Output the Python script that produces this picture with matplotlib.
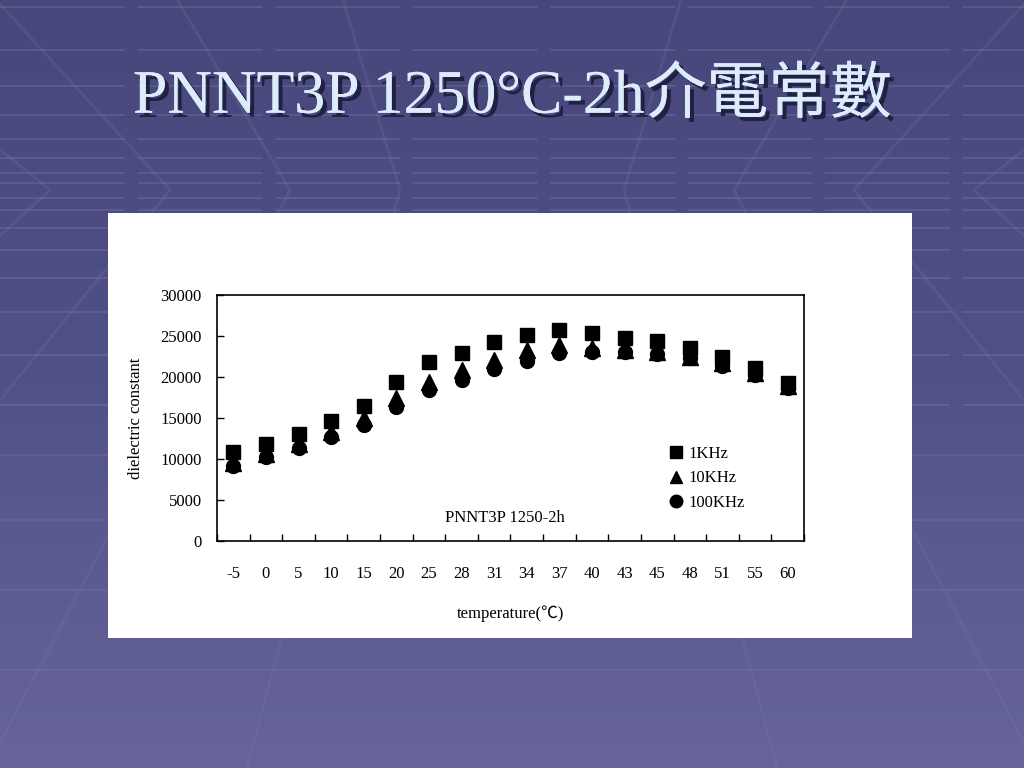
import numpy as np
import matplotlib.pyplot as plt
from matplotlib.colors import LinearSegmentedColormap
from matplotlib.patches import Rectangle
import matplotlib.patheffects as pe

# data
temps = ['-5', '0', '5', '10', '15', '20', '25', '28', '31', '34', '37', '40',
         '43', '45', '48', '51', '55', '60']
k1 = [10850, 11830, 13050, 14650, 16450, 19400, 21800, 22950, 24250, 25150,
      25700, 25350, 24750, 24350, 23550, 22400, 21100, 19300]
k10 = [9550, 10600, 11850, 13350, 14950, 17500, 19450, 20850, 22100, 23250,
       23850, 23500, 23250, 23050, 22500, 21650, 20450, 18900]
k100 = [9150, 10250, 11300, 12700, 14200, 16400, 18400, 19600, 20950, 21900,
        22950, 23100, 23050, 22800, 22300, 21350, 20250, 18650]

W, H = 1024, 768
fig = plt.figure(figsize=(W / 100, H / 100), dpi=100)

# slide background
bg = fig.add_axes([0, 0, 1, 1])
bg.set_xlim(0, W)
bg.set_ylim(H, 0)
bg.axis('off')
cmap = LinearSegmentedColormap.from_list('slide', ['#47477b', '#51518a', '#66649a'])
grad = np.linspace(0, 1, 256).reshape(-1, 1)
bg.imshow(grad, cmap=cmap, extent=[0, W, H, 0], aspect='auto', zorder=0)

hz = 190
for d in [8, 20, 38, 60, 88, 122, 165, 215]:
    for y in (hz - d * 0.85, hz + d):
        if 0 < y < H:
            bg.plot([0, W], [y, y], color='#8a8ab8', lw=1.5, alpha=0.25,
                    ls=(0, (60, 6)), zorder=1)
for d in [265, 330, 400, 480]:
    bg.plot([0, W], [hz + d, hz + d], color='#8a8ab8', lw=1.5, alpha=0.2, zorder=1)
for x0 in [-250, -90, 50, 170, 290, 400, 624, 734, 854, 974, 1110, 1270]:
    s = (x0 - 512) / 512
    bg.plot([x0 + s * 260, x0, x0 + s * 700], [0, hz, H], color='#7a7aac',
            lw=2.0, alpha=0.22, zorder=1)

# white panel
bg.add_patch(Rectangle((108, 213), 804, 425, facecolor='white', edgecolor='none', zorder=2))

# title
title = 'PNNT3P 1250°C-2h介電常數'
bg.text(512, 97, title, ha='center', va='center', fontsize=44.5, color='#dcecfb',
        family=['Liberation Serif', 'Noto Sans CJK TC'], zorder=3,
        path_effects=[pe.withSimplePatchShadow(offset=(3, -3), shadow_rgbFace='#1c1c3c', alpha=0.9),
                      pe.Normal()])

# chart
x0, x1, y0, y1 = 217, 804, 295, 541
ax = fig.add_axes([x0 / W, 1 - y1 / H, (x1 - x0) / W, (y1 - y0) / H])
ax.set_facecolor('white')
x = np.arange(len(temps))
ax.plot(x, k1, 's', color='black', ms=10, label='1KHz', zorder=3)
ax.plot(x, k10, '^', color='black', ms=11, label='10KHz', zorder=4)
ax.plot(x, k100, 'o', color='black', ms=10, label='100KHz', zorder=5)

ax.set_xlim(-0.5, len(temps) - 0.5)
ax.set_ylim(0, 30000)
ax.set_yticks(range(0, 30001, 5000))
ax.set_xticks(x)
ax.set_xticklabels(temps)
ax.set_xticks(np.arange(-0.5, len(temps), 1.0), minor=True)
ax.tick_params(axis='x', which='major', length=0, pad=18, labelsize=12)
ax.tick_params(axis='x', which='minor', direction='in', length=5, width=1)
ax.tick_params(axis='y', direction='in', length=5, width=1, pad=11, labelsize=12)
for sp in ax.spines.values():
    sp.set_linewidth(1.2)
for lab in ax.get_xticklabels() + ax.get_yticklabels():
    lab.set_family('Liberation Serif')

ax.set_xlabel('temperature(℃)', family=['Liberation Serif', 'Noto Sans CJK TC'],
              fontsize=12, labelpad=17)
ax.set_ylabel('dielectric constant', family='Liberation Serif', fontsize=12, labelpad=12)
ax.text(0.49, 0.095, 'PNNT3P 1250-2h', transform=ax.transAxes, ha='center',
        va='center', family='Liberation Serif', fontsize=12)

leg = ax.legend(loc='upper left', bbox_to_anchor=(0.75, 0.42), frameon=False,
                handletextpad=0.15, labelspacing=0.5, handlelength=1.2, borderpad=0,
                prop={'family': 'Liberation Serif', 'size': 12})
for h in leg.legend_handles:
    h.set_markersize(9)

fig.savefig('out.png', dpi=100)
